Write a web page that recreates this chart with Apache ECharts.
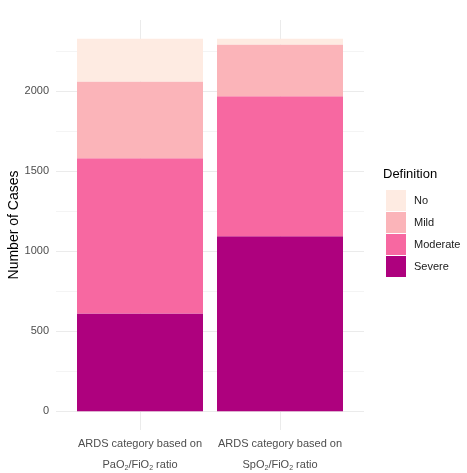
<!DOCTYPE html>
<html><head><meta charset="utf-8">
<script src="https://cdn.jsdelivr.net/npm/echarts@6/dist/echarts.min.js"></script>
<style>html,body{margin:0;padding:0;background:#fff}#c{width:467px;height:473px}</style>
</head><body><div id="c"></div>
<script>
const categories = ['PaO2', 'SpO2'];
const severe = [612, 1094];
const moderate = [970, 876];
const mild = [480, 324];
const noArds = [268, 36];
const majorTicks = [0, 500, 1000, 1500, 2000];
const minorTicks = [250, 750, 1250, 1750, 2250];
const legendOrder = ['No', 'Mild', 'Moderate', 'Severe'];
const colors = {No: '#feebe2', Mild: '#fbb4b9', Moderate: '#f768a1', Severe: '#ae017e'};

const FONT = "'Liberation Sans', Arial, Helvetica, sans-serif";
const yMin = -116.5, yMax = 2446.5;
const chart = echarts.init(document.getElementById('c'), null, {renderer: 'canvas'});

function mkSeries(name, data) {
  return {name, type: 'bar', stack: 'total', data, xAxisIndex: 1, yAxisIndex: 2,
    barWidth: '90%', itemStyle: {color: colors[name]}, emphasis: {disabled: true}};
}

chart.setOption({
  animation: false,
  textStyle: {fontFamily: FONT},
  title: {text: 'Definition', left: 383, top: 168, padding: 0,
    textStyle: {fontSize: 13, fontWeight: 'normal', color: '#000', fontFamily: FONT}},
  legend: {orient: 'vertical', left: 386, top: 190, itemWidth: 20, itemHeight: 21, itemGap: 1,
    icon: 'rect', data: legendOrder, padding: 0, selectedMode: false,
    textStyle: {fontSize: 11, color: '#1a1a1a', fontFamily: FONT, padding: [0, 0, 0, 3]}},
  grid: [
    {left: 56, right: 103, top: 20, bottom: 43, outerBoundsMode: 'none', containLabel: false},
    {left: 70, right: 117, top: 20, bottom: 43, outerBoundsMode: 'none', containLabel: false}
  ],
  xAxis: [
    {type: 'value', gridIndex: 0, min: 0.4, max: 2.6,
      axisLine: {show: false}, axisLabel: {show: false},
      axisTick: {show: false, customValues: [1, 2]},
      splitLine: {show: true, lineStyle: {color: '#ebebeb', width: 1}}},
    {type: 'category', gridIndex: 1, data: categories,
      axisLine: {show: false}, axisTick: {show: false}, splitLine: {show: false},
      axisLabel: {interval: 0, hideOverlap: false, margin: 3, fontSize: 11, color: '#4d4d4d', lineHeight: 21,
        formatter: v => 'ARDS category based on\n' + (v === 'PaO2' ? 'PaO' : 'SpO') + '{s|2}/FiO{s|2} ratio',
        rich: {s: {fontSize: 7, color: '#4d4d4d', lineHeight: 21, padding: [7, 0, 0, 0]}}}}
  ],
  yAxis: [
    {type: 'value', gridIndex: 0, min: yMin, max: yMax, position: 'left',
      axisLine: {show: false},
      axisTick: {show: false, customValues: majorTicks},
      axisLabel: {customValues: majorTicks, fontSize: 11, color: '#4d4d4d', margin: 7,
        formatter: v => String(v)},
      splitLine: {show: true, lineStyle: {color: '#ebebeb', width: 1}}},
    {type: 'value', gridIndex: 0, min: yMin, max: yMax, position: 'left', offset: 0,
      name: 'Number of Cases', nameLocation: 'middle', nameGap: 35, nameRotate: 90,
      nameMoveOverlap: false,
      nameTextStyle: {fontSize: 14, color: '#000', fontFamily: FONT},
      axisLine: {show: false}, axisLabel: {show: false},
      axisTick: {show: false, customValues: minorTicks},
      splitLine: {show: true, lineStyle: {color: '#f4f4f4', width: 1}}},
    {type: 'value', gridIndex: 1, min: yMin, max: yMax, show: false,
      splitLine: {show: false}}
  ],
  series: [
    mkSeries('Severe', severe),
    mkSeries('Moderate', moderate),
    mkSeries('Mild', mild),
    mkSeries('No', noArds)
  ]
});
</script></body></html>
